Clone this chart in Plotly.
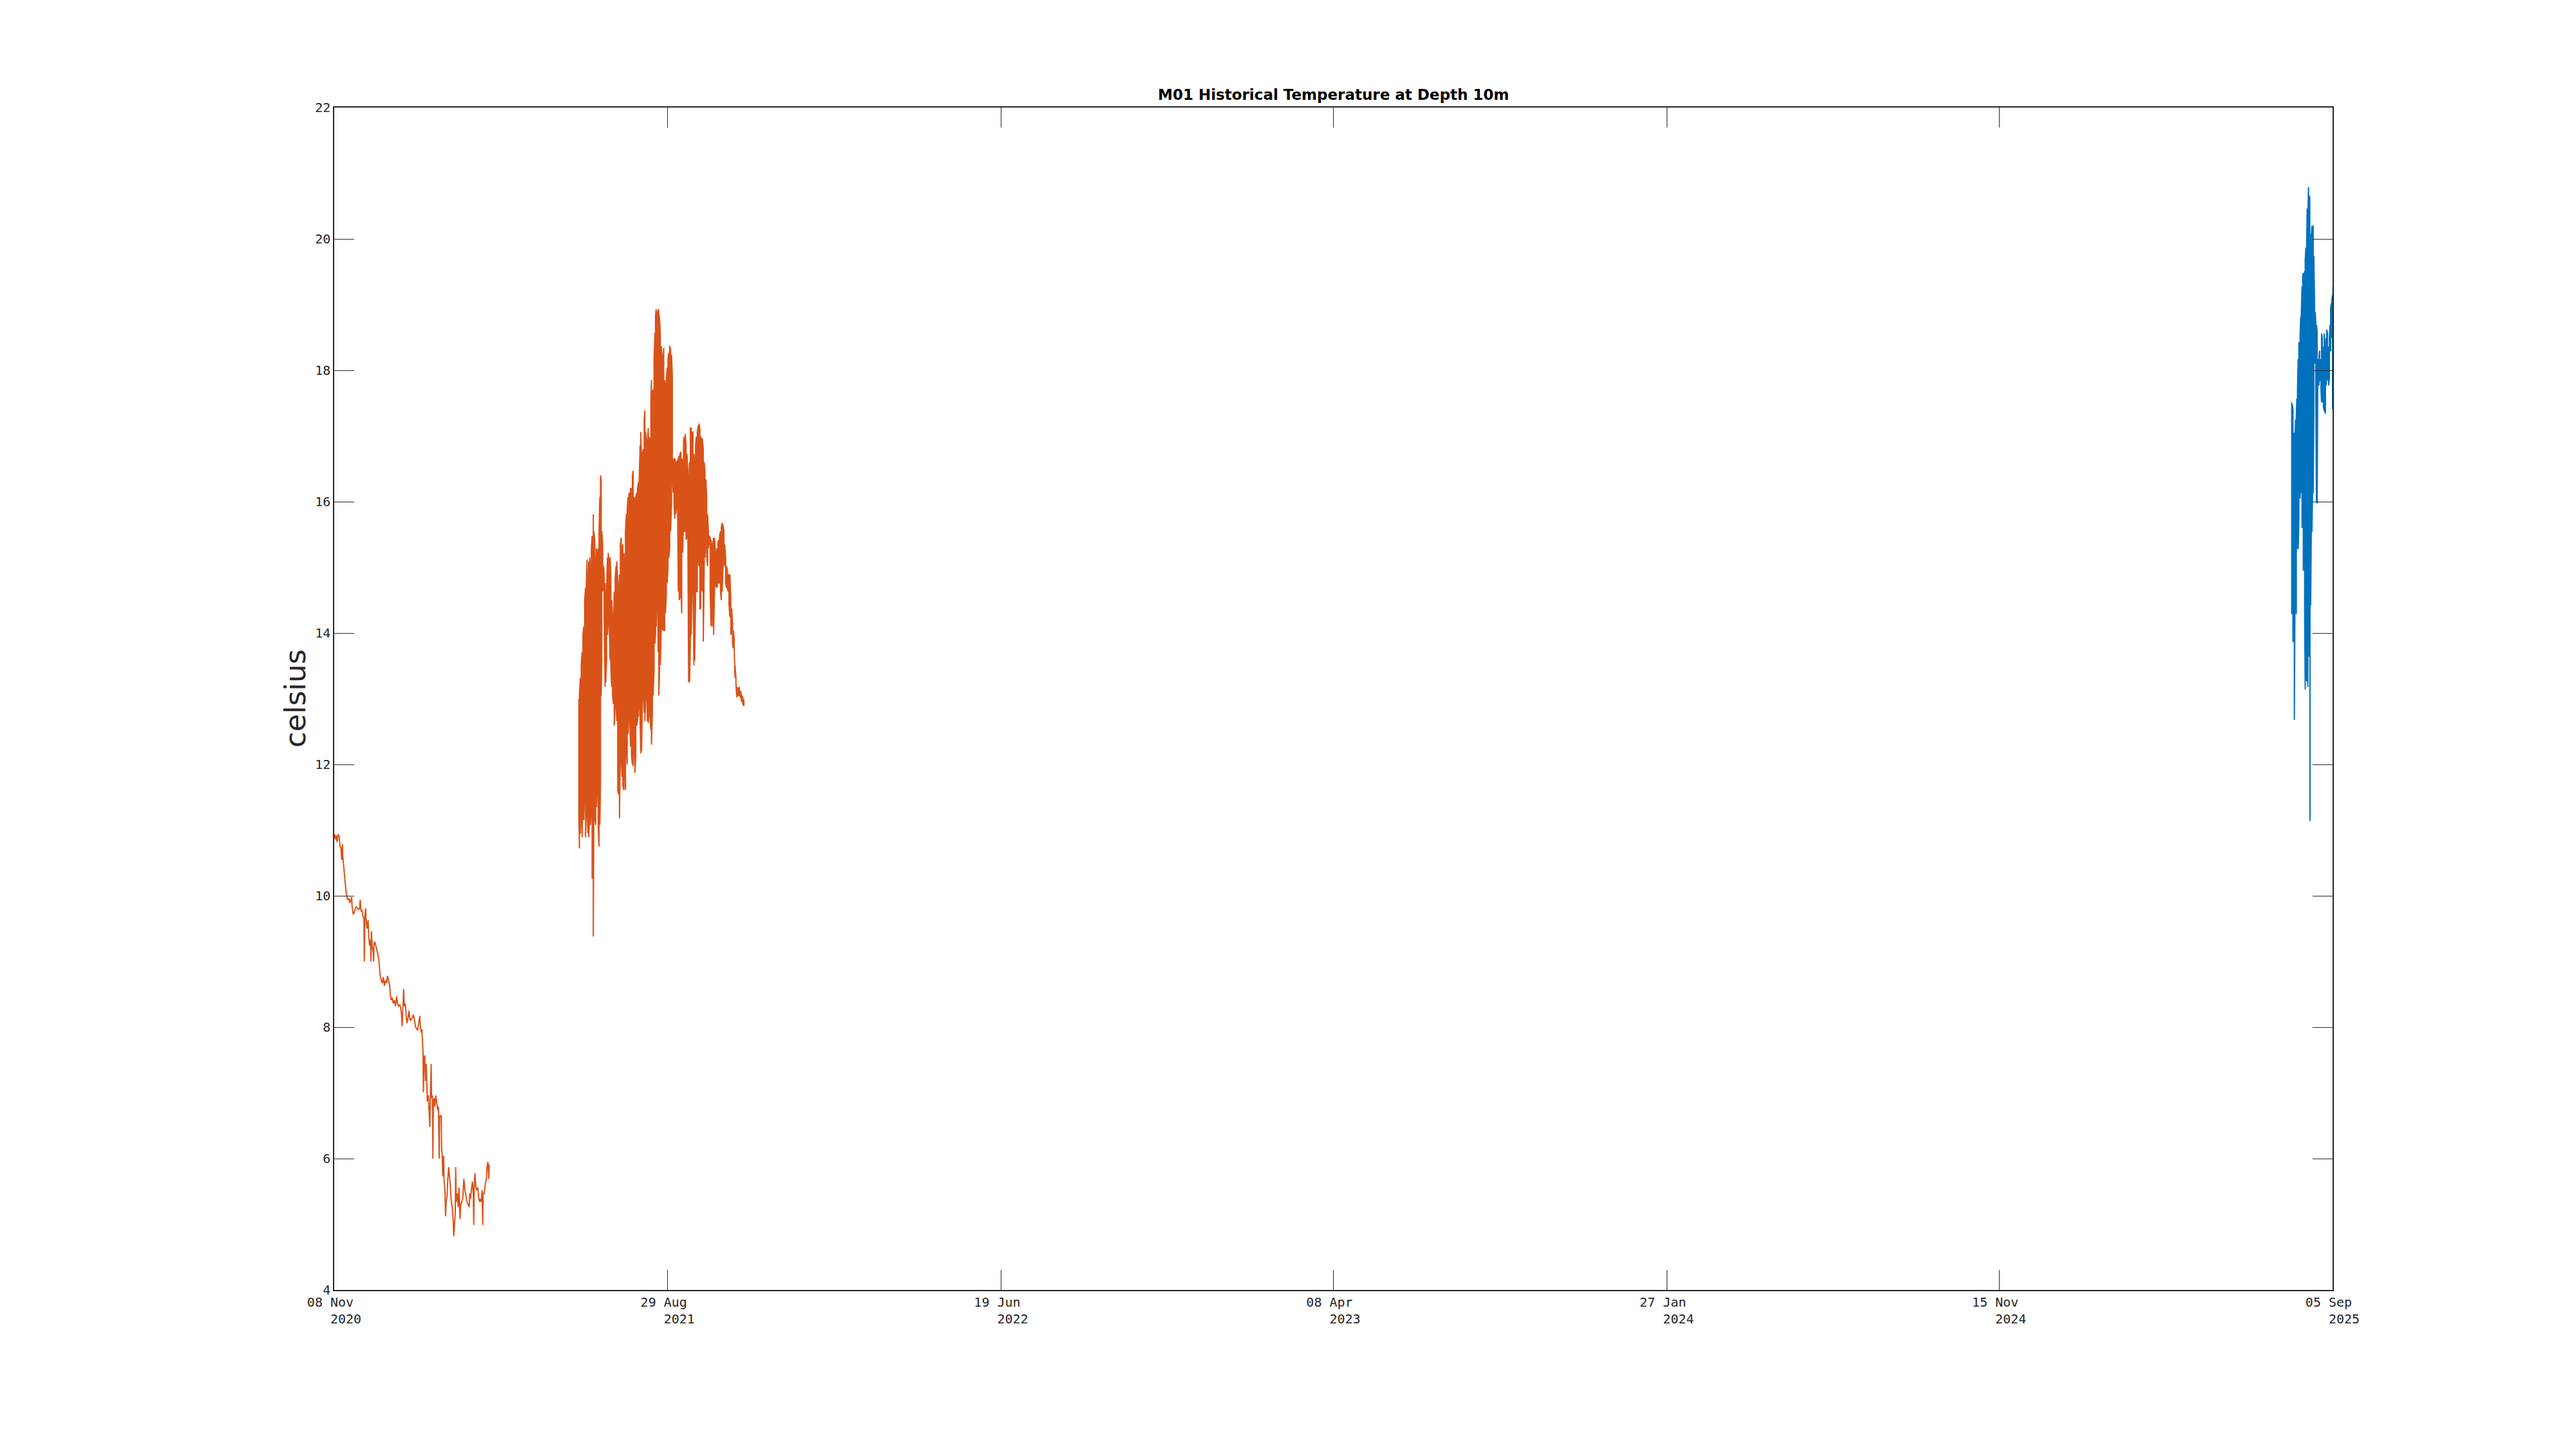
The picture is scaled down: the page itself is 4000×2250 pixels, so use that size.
import plotly.graph_objects as go
import pandas as pd

START = pd.Timestamp("2020-11-08")   # day 0 of the elapsed-day arrays

# ---- Segment 1 (orange): Nov 2020 - Mar 2021, elapsed days / temperature (C)
s1_day = [0.2, 0.9, 1.7, 2.5, 3.4, 4.4, 5.1, 5.9, 6.6, 7.2, 7.6, 8.2, 8.9, 9.7, 10.4, 11.2, 11.9, 12.9,
          13.8, 14.8, 15.4, 15.7, 16.7, 17.6, 18.6, 19.5, 20.5, 21.4, 22.4, 22.9, 23.7, 24.3, 25.2, 26.2,
          26.5, 27.1, 27.7, 28.0, 29.0, 29.9, 30.5, 31.3, 32.0, 32.4, 32.8, 33.5, 34.3, 34.7, 35.1, 35.8,
          36.6, 37.5, 38.5, 39.4, 40.4, 41.3, 42.3, 43.2, 44.2, 45.1, 46.1, 47.0, 47.9, 48.9, 49.5, 50.2,
          51.2, 52.1, 53.1, 54.0, 55.1, 55.9, 56.7, 57.8, 58.6, 59.3, 59.9, 60.5, 61.2, 61.8, 62.7, 63.5,
          64.2, 65.0, 65.9, 66.9, 67.8, 68.8, 69.7, 70.7, 71.6, 72.6, 73.5, 74.5, 75.4, 76.0, 76.7, 77.3,
          77.9, 78.3, 78.6, 79.2, 79.8, 80.5, 81.1, 81.7, 82.1, 83.0, 83.6, 84.3, 84.9, 85.5, 85.8, 86.6,
          87.0, 87.4, 88.1, 88.7, 89.6, 90.6, 91.2, 91.9, 92.5, 93.0, 93.8, 94.4, 94.7, 95.3, 95.7, 96.5,
          96.8, 97.6, 98.2, 98.7, 99.5, 100.1, 101.0, 102.0, 102.5, 103.3, 104.0, 104.8, 105.4, 105.9,
          106.7, 107.1, 107.6, 108.6, 109.3, 110.1, 110.9, 111.6, 112.4, 113.3, 114.3, 115.2, 116.2,
          117.1, 118.1, 119.0, 119.6, 120.3, 120.9, 121.9, 122.6, 123.0, 123.4, 124.1, 124.9, 125.6,
          126.6, 127.5, 128.3, 129.1, 129.8, 130.4, 131.0, 131.3, 132.3, 133.2, 134.2, 134.7, 135.5,
          136.3, 136.6]
s1_temp = [10.94, 10.86, 10.92, 10.82, 10.94, 10.90, 10.75, 10.73, 10.55, 10.79, 10.59, 10.46, 10.33,
           10.20, 10.07, 9.98, 9.94, 9.96, 9.89, 9.94, 9.98, 9.85, 9.72, 9.74, 9.81, 9.83, 9.81, 9.79,
           9.81, 9.94, 9.76, 9.79, 9.70, 9.65, 9.00, 9.70, 9.81, 9.65, 9.50, 9.63, 9.37, 9.24, 9.33, 9.00,
           9.46, 9.22, 9.15, 9.00, 9.28, 9.30, 9.24, 9.19, 9.11, 9.02, 8.80, 8.73, 8.67, 8.76, 8.63, 8.71,
           8.67, 8.78, 8.71, 8.63, 8.49, 8.41, 8.45, 8.36, 8.41, 8.32, 8.47, 8.36, 8.32, 8.34, 8.30, 8.19,
           8.01, 8.23, 8.58, 8.32, 8.36, 8.14, 8.06, 8.14, 8.25, 8.10, 8.12, 8.14, 8.19, 8.12, 8.01, 7.97,
           7.95, 8.06, 8.17, 8.01, 7.92, 7.97, 7.79, 7.62, 7.01, 7.53, 7.57, 7.18, 7.44, 7.09, 6.87, 6.96,
           6.74, 6.48, 7.01, 7.44, 6.92, 6.96, 6.00, 6.87, 6.92, 6.79, 6.96, 6.83, 6.74, 6.79, 6.00, 6.66,
           6.63, 6.66, 6.13, 6.04, 5.73, 6.04, 5.69, 5.52, 5.12, 5.34, 5.43, 5.69, 5.87, 5.65, 5.52, 5.34,
           5.26, 5.08, 4.82, 4.99, 5.17, 5.87, 5.34, 5.47, 5.26, 5.56, 5.08, 5.30, 5.34, 5.39, 5.69, 5.52,
           5.43, 5.34, 5.30, 5.26, 5.47, 5.39, 5.52, 5.65, 5.47, 4.99, 5.56, 5.78, 5.56, 5.52, 5.56, 5.39,
           5.34, 5.39, 5.34, 5.52, 4.99, 5.47, 5.47, 5.61, 5.69, 5.87, 5.95, 5.69, 5.91]

# ---- Segment 2 (orange): Jun - Nov 2021, high-frequency swings: per-sample high / low
s2_day = [215.7, 216.2, 217.0, 217.8, 218.5, 219.3, 220.0, 220.8, 221.6, 222.3, 222.9, 223.6, 224.4,
          225.2, 225.9, 226.7, 227.4, 228.0, 228.4, 228.9, 229.7, 230.5, 231.2, 232.0, 232.7, 233.5,
          234.2, 234.8, 235.4, 235.9, 236.7, 237.5, 238.0, 238.8, 239.4, 240.1, 240.9, 241.6, 242.4,
          243.2, 243.9, 244.7, 245.4, 246.2, 246.9, 247.7, 248.5, 249.2, 250.0, 250.7, 251.5, 252.3,
          253.0, 253.8, 254.5, 255.3, 256.0, 256.8, 257.6, 258.3, 259.1, 259.8, 260.6, 261.3, 262.1,
          262.9, 263.6, 264.4, 265.1, 265.9, 266.7, 267.4, 268.2, 268.9, 269.7, 270.3, 271.0, 271.8,
          272.5, 273.3, 273.9, 274.6, 275.4, 276.1, 276.9, 277.6, 278.4, 279.2, 279.7, 280.5, 281.2,
          282.0, 282.8, 283.3, 283.9, 284.5, 285.0, 285.6, 286.2, 286.7, 287.5, 288.3, 289.0, 289.8,
          290.5, 291.3, 292.0, 292.8, 293.6, 294.3, 295.1, 295.8, 296.6, 297.4, 298.1, 298.9, 299.6,
          300.4, 301.1, 301.9, 302.7, 303.4, 304.2, 304.9, 305.7, 306.4, 307.2, 308.0, 308.7, 309.5,
          310.2, 311.0, 311.8, 312.5, 313.3, 314.0, 314.8, 315.5, 316.3, 317.1, 317.8, 318.6, 319.3,
          320.1, 320.9, 321.6, 322.4, 323.1, 323.9, 324.6, 325.4, 326.2, 326.9, 327.7, 328.4, 329.2,
          329.9, 330.7, 331.5, 332.2, 333.0, 333.7, 334.5, 335.3, 336.0, 336.8, 337.5, 338.3, 339.0,
          339.8, 340.6, 341.3, 342.1, 342.8, 343.6, 344.3, 345.1, 345.9, 346.6, 347.4, 348.1, 348.9,
          349.7, 350.4, 351.2, 351.9, 352.7, 353.4, 354.2, 355.0, 355.7, 356.5, 357.2, 358.0, 358.8,
          359.5, 360.3, 361.2]
s2_hi = [12.99, 13.05, 13.32, 13.51, 13.71, 13.97, 14.10, 14.50, 14.69, 14.76, 15.12, 14.63, 15.09,
         15.15, 14.96, 15.29, 15.48, 15.65, 15.81, 15.55, 15.42, 15.02, 15.29, 15.15, 15.29, 15.55,
         16.07, 16.40, 16.34, 15.55, 15.35, 15.02, 14.89, 14.76, 14.24, 14.63, 15.15, 15.22, 15.09,
         15.15, 14.89, 14.50, 14.24, 14.10, 14.63, 14.83, 15.02, 15.09, 14.76, 14.50, 14.89, 15.35,
         15.45, 15.29, 15.35, 15.22, 15.09, 15.55, 15.81, 15.87, 16.07, 16.11, 16.14, 16.20, 16.20,
         16.40, 16.47, 16.07, 16.01, 16.07, 16.14, 16.20, 16.30, 16.34, 16.86, 17.06, 16.60, 16.73,
         16.80, 17.26, 17.39, 17.06, 16.80, 16.93, 17.12, 16.99, 16.93, 17.52, 17.85, 17.65, 17.71,
         18.17, 18.57, 18.83, 18.93, 18.90, 18.86, 18.93, 18.90, 18.83, 18.57, 18.37, 18.24, 18.08,
         18.34, 17.85, 17.78, 17.85, 18.04, 18.17, 18.27, 18.37, 18.31, 18.24, 17.91, 16.60, 16.66,
         16.66, 16.53, 16.60, 16.63, 16.66, 16.70, 16.73, 16.76, 16.66, 16.60, 16.93, 16.99, 17.03,
         16.86, 16.73, 16.47, 16.14, 16.60, 17.12, 17.12, 17.06, 17.06, 16.73, 16.60, 16.86, 16.99,
         17.06, 17.16, 17.19, 17.12, 16.99, 16.96, 16.96, 16.80, 16.60, 16.47, 16.34, 16.07, 15.81,
         15.55, 15.48, 15.45, 15.42, 15.29, 15.35, 15.45, 15.45, 15.29, 15.15, 15.29, 15.38, 15.42,
         15.48, 15.55, 15.61, 15.68, 15.65, 15.55, 15.35, 15.15, 15.02, 14.96, 14.89, 14.89, 14.89,
         14.50, 14.37, 14.17, 14.04, 13.91, 13.51, 13.32, 13.18, 13.15, 13.15, 13.18, 13.12, 13.09,
         13.05, 13.02, 12.99]
s2_lo = [11.25, 10.72, 10.95, 11.35, 10.89, 11.48, 11.15, 11.61, 10.89, 11.41, 11.35, 10.95, 10.89,
         11.28, 11.08, 11.35, 10.26, 10.69, 9.38, 11.28, 11.22, 11.08, 11.35, 11.74, 11.08, 10.75,
         11.08, 11.74, 13.05, 13.58, 14.63, 14.76, 14.24, 13.18, 13.25, 13.58, 13.97, 14.17, 14.24,
         13.58, 13.45, 13.18, 13.05, 12.92, 12.59, 12.92, 12.92, 12.66, 11.61, 11.54, 11.18, 12.27,
         12.13, 11.81, 11.67, 11.61, 12.00, 11.61, 12.33, 12.00, 12.46, 12.79, 12.66, 12.27, 12.13,
         12.00, 11.97, 12.40, 11.87, 12.13, 12.59, 12.66, 12.72, 12.99, 12.66, 12.17, 12.20, 13.05,
         13.18, 12.79, 12.66, 12.99, 13.45, 12.66, 12.63, 12.92, 12.72, 12.53, 12.30, 12.79, 13.05,
         13.45, 13.84, 13.97, 14.10, 14.63, 14.96, 13.71, 13.05, 13.32, 13.51, 14.04, 14.10, 14.04,
         14.04, 14.04, 14.30, 14.56, 14.76, 15.02, 15.15, 15.29, 15.55, 15.97, 16.40, 16.14, 15.94,
         15.74, 15.81, 15.94, 16.01, 14.63, 14.50, 14.56, 14.69, 14.30, 15.22, 15.68, 15.55, 15.55,
         15.42, 15.48, 15.55, 13.25, 13.25, 13.84, 13.97, 14.63, 15.29, 13.51, 13.58, 14.50, 14.63,
         14.63, 15.15, 15.02, 14.37, 14.37, 14.69, 14.63, 13.87, 14.96, 15.15, 15.48, 15.15, 15.02,
         15.29, 15.42, 14.63, 14.10, 14.24, 14.10, 13.97, 14.63, 14.76, 14.69, 14.69, 14.83, 14.76,
         14.76, 14.63, 14.50, 14.63, 15.02, 15.09, 15.02, 14.76, 14.69, 14.69, 14.63, 14.43, 14.24,
         13.97, 14.04, 13.84, 13.77, 13.74, 13.32, 13.22, 13.02, 13.05, 13.05, 13.09, 13.02, 12.99,
         12.95, 12.92, 12.89]

# ---- Segment 3 (blue): Aug - Sep 2025, per-sample high / low
s3_day = [1726.0, 1726.6, 1727.1, 1727.7, 1728.3, 1728.8, 1729.4, 1730.0, 1730.5, 1731.1, 1731.7,
          1732.3, 1732.8, 1733.4, 1734.0, 1734.5, 1735.1, 1735.7, 1736.2, 1736.8, 1737.4, 1737.9,
          1738.5, 1739.1, 1739.6, 1740.2, 1740.8, 1741.3, 1741.9, 1742.1, 1742.7, 1743.2, 1743.8,
          1744.4, 1744.9, 1745.5, 1746.1, 1746.7, 1747.2, 1747.8, 1748.4, 1748.9, 1749.5, 1750.1,
          1750.6, 1751.2, 1751.8, 1752.3, 1752.9, 1753.5, 1754.0, 1754.6, 1755.2, 1755.7, 1756.3,
          1756.9, 1757.5, 1758.0, 1758.6, 1759.2, 1759.7, 1760.3, 1760.9, 1761.4, 1762.0, 1762.4,
          1762.8, 1763.1]
s3_hi = [17.51, 17.48, 17.38, 17.05, 16.79, 16.98, 17.25, 17.25, 17.57, 17.74, 18.17, 18.43, 18.10,
         18.56, 18.82, 18.89, 19.28, 19.45, 19.48, 19.22, 19.51, 19.68, 19.87, 19.81, 20.46, 20.33,
         20.79, 20.66, 20.63, 19.87, 20.07, 20.00, 20.20, 20.17, 20.20, 19.74, 19.02, 18.89, 18.72,
         18.69, 18.59, 18.17, 18.10, 18.23, 18.30, 18.10, 18.17, 18.56, 18.49, 18.30, 18.36, 18.56,
         18.36, 18.30, 18.49, 18.62, 18.56, 18.30, 18.36, 18.49, 18.69, 18.95, 19.02, 19.08, 19.15,
         19.28, 18.30, 17.38]
s3_lo = [14.29, 14.69, 13.86, 14.62, 12.68, 14.36, 15.67, 14.29, 15.28, 15.47, 15.28, 15.74, 16.06,
         16.06, 16.52, 16.13, 15.60, 16.79, 14.95, 15.80, 14.19, 13.14, 13.31, 13.27, 14.62, 13.18,
         14.98, 13.64, 14.55, 11.14, 14.42, 15.51, 15.54, 16.20, 16.13, 17.38, 18.43, 18.10, 17.71,
         16.00, 15.97, 17.77, 17.90, 17.77, 17.84, 17.90, 17.71, 17.51, 17.64, 17.51, 17.44, 17.38,
         17.38, 17.34, 17.77, 17.90, 18.10, 17.84, 17.77, 17.90, 18.30, 18.30, 18.49, 18.56, 17.41,
         17.41, 14.78, 16.26]

# ---- axis ticks
x_tick_dates = ["2020-11-08", "2021-08-29", "2022-06-19", "2023-04-08", "2024-01-27", "2024-11-15", "2025-09-05"]
x_tick_daymon = ["08 Nov", "29 Aug", "19 Jun", "08 Apr", "27 Jan", "15 Nov", "05 Sep"]
x_tick_year = ["2020", "2021", "2022", "2023", "2024", "2024", "2025"]
y_ticks = [4, 6, 8, 10, 12, 14, 16, 18, 20, 22]

ORANGE = "#D95319"
BLUE = "#0072BD"
INK = "#262626"


def to_dates(days):
    return START + pd.to_timedelta(days, unit="D")


def zigzag(days, hi, lo):
    xs, ys = [], []
    for i, (d, h, l) in enumerate(zip(days, hi, lo)):
        xs += [d, d]
        ys += [h, l] if i % 2 == 0 else [l, h]
    return to_dates(xs), ys


fig = go.Figure()
x3, y3 = zigzag(s3_day, s3_hi, s3_lo)
fig.add_trace(go.Scatter(x=x3, y=y3, mode="lines", line=dict(color=BLUE, width=2)))
fig.add_trace(go.Scatter(x=to_dates(s1_day), y=s1_temp, mode="lines", line=dict(color=ORANGE, width=2)))
x2, y2 = zigzag(s2_day, s2_hi, s2_lo)
fig.add_trace(go.Scatter(x=x2, y=y2, mode="lines", line=dict(color=ORANGE, width=2)))

nb = "\u00a0"
ticktext = [f"{dm}{nb}<br>{nb*3}{yr}" for dm, yr in zip(x_tick_daymon, x_tick_year)]

# target plot box on the page (the page body adds an 8 px offset)
OFF = 8
L, R, T, B = 519, 3622, 167, 2003
W, H = 4000 - 2 * OFF, 2250 - 2 * OFF

fig.update_layout(
    width=W, height=H,
    margin=dict(l=L - OFF, r=W + OFF - R, t=T - OFF, b=H + OFF - B, pad=0),
    paper_bgcolor="white", plot_bgcolor="white",
    showlegend=False,
    font=dict(family="DejaVu Sans Mono", size=20, color=INK),
)
fig.update_xaxes(
    type="date", range=[x_tick_dates[0], x_tick_dates[-1]],
    tickmode="array", tickvals=x_tick_dates, ticktext=ticktext,
    ticks="inside", ticklen=31, tickwidth=1.2, tickcolor=INK,
    showline=True, linecolor=INK, linewidth=1.5, mirror="ticks",
    showgrid=False, zeroline=False,
    tickfont=dict(family="DejaVu Sans Mono", size=20, color=INK),
    tickangle=0,
)
fig.update_yaxes(
    range=[4, 22], tickmode="array", tickvals=y_ticks, ticktext=[str(v) for v in y_ticks],
    ticks="inside", ticklen=31, tickwidth=1.2, tickcolor=INK,
    showline=True, linecolor=INK, linewidth=1.5, mirror="ticks",
    showgrid=False, zeroline=False,
    tickfont=dict(family="DejaVu Sans Mono", size=20, color=INK),
)
fig.add_annotation(
    text="<b>M01 Historical Temperature at Depth 10m</b>",
    xref="paper", yref="paper", x=0.5, y=1.0109, xanchor="center", yanchor="middle",
    showarrow=False, font=dict(family="DejaVu Sans", size=23, color="black"),
)
fig.add_annotation(
    text="celsius", xref="paper", yref="paper", x=(458 - L) / (R - L), y=0.5,
    xanchor="center", yanchor="middle", textangle=-90, showarrow=False,
    font=dict(family="DejaVu Sans", size=45, color=INK),
)

fig.write_html("out.html")
